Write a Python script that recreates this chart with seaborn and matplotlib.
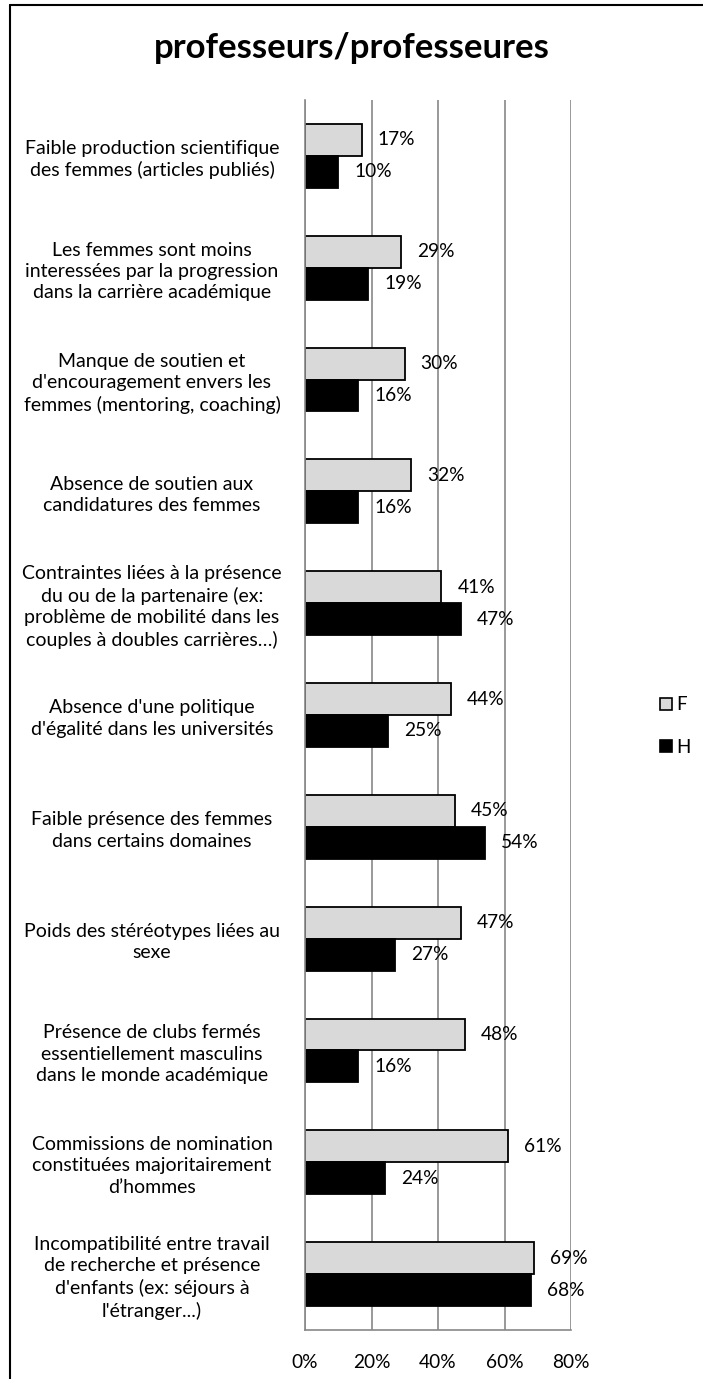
import numpy as np
import pandas as pd
import matplotlib
matplotlib.use("Agg")
import matplotlib.pyplot as plt
from matplotlib.lines import Line2D
import seaborn as sns

# ========================
# DATA
# ========================
categories = [
    "Faible production scientifique\ndes femmes (articles publiés)",
    "Les femmes sont moins\ninteressées par la progression\ndans la carrière académique",
    "Manque de soutien et\nd'encouragement envers les\nfemmes (mentoring, coaching)",
    "Absence de soutien aux\ncandidatures des femmes",
    "Contraintes liées à la présence\ndu ou de la partenaire (ex:\nproblème de mobilité dans les\ncouples à doubles carrières…)",
    "Absence d'une politique\nd'égalité dans les universités",
    "Faible présence des femmes\ndans certains domaines",
    "Poids des stéréotypes liées au\nsexe",
    "Présence de clubs fermés\nessentiellement masculins\ndans le monde académique",
    "Commissions de nomination\nconstituées majoritairement\nd’hommes",
    "Incompatibilité entre travail\nde recherche et présence\nd'enfants (ex: séjours à\nl'étranger...)",
]
values_f = [17, 29, 30, 32, 41, 44, 45, 47, 48, 61, 69]
values_h = [10, 19, 16, 16, 47, 25, 54, 27, 16, 24, 68]
series = ["F", "H"]
x_ticks = [0, 20, 40, 60, 80]

TITLE = "professeurs/professeures"
FONT = ["Lato", "DejaVu Sans"]

df = pd.DataFrame({
    "cat": categories * 2,
    "val": values_f + values_h,
    "serie": ["F"] * len(values_f) + ["H"] * len(values_h),
})

# ========================
# PLOT
# ========================
sns.set_style("white")
plt.rcParams["font.family"] = FONT
plt.rcParams["text.color"] = "black"
plt.rcParams["xtick.color"] = "black"
plt.rcParams["ytick.color"] = "black"

fig = plt.figure(figsize=(7.03, 13.79), dpi=100)
ax = fig.add_axes([305 / 703, 1 - 1330 / 1379, 266 / 703, 1230 / 1379])

palette = {"F": "#d9d9d9", "H": "#000000"}
sns.barplot(data=df, y="cat", x="val", hue="serie", hue_order=series,
            palette=palette, orient="h", width=0.57, edgecolor="black",
            linewidth=1.3, legend=False, ax=ax, saturation=1)

for cont in ax.containers:
    ax.bar_label(cont, labels=[f"{int(round(v))}%" for v in cont.datavalues],
                 padding=11.5, fontsize=13.8, color="black")

ax.set_xlim(0, 80)
ax.set_xticks(x_ticks)
ax.set_xticklabels([f"{t}%" for t in x_ticks], fontsize=13.8)
ax.tick_params(axis="x", length=0, pad=17)
ax.tick_params(axis="y", length=0, pad=0)
ax.set_yticks(range(len(categories)))
ax.set_yticklabels(categories, fontsize=14, ha="center", linespacing=1.3)
for lbl in ax.get_yticklabels():
    lbl.set_x(-153 / 266)
ax.set_xlabel("")
ax.set_ylabel("")

ax.grid(axis="x", color="#888888", linewidth=1.2)
ax.set_axisbelow(True)
for side in ["top", "right"]:
    ax.spines[side].set_visible(False)
for side in ["left", "bottom"]:
    ax.spines[side].set_color("#888888")
    ax.spines[side].set_linewidth(1.2)

handles = [Line2D([], [], marker="s", linestyle="", markersize=8,
                  markerfacecolor=palette[s], markeredgecolor="black",
                  markeredgewidth=1.2) for s in series]
fig.legend(handles, series, loc="center left", bbox_to_anchor=(640 / 703, 1 - 726 / 1379),
           frameon=False, fontsize=13.5, handletextpad=0.05, labelspacing=1.35,
           handlelength=1.0)

fig.text(0.5, 1 - 48 / 1379, TITLE, ha="center", va="center",
         fontsize=25, fontweight="bold")

# chart border (top and left visible)
fig.add_artist(Line2D([9.5 / 703, 9.5 / 703], [0, 1 - 5 / 1379], color="black", linewidth=1.5))
fig.add_artist(Line2D([9.5 / 703, 1], [1 - 5 / 1379, 1 - 5 / 1379], color="black", linewidth=1.5))

fig.savefig("out.png", dpi=100)
